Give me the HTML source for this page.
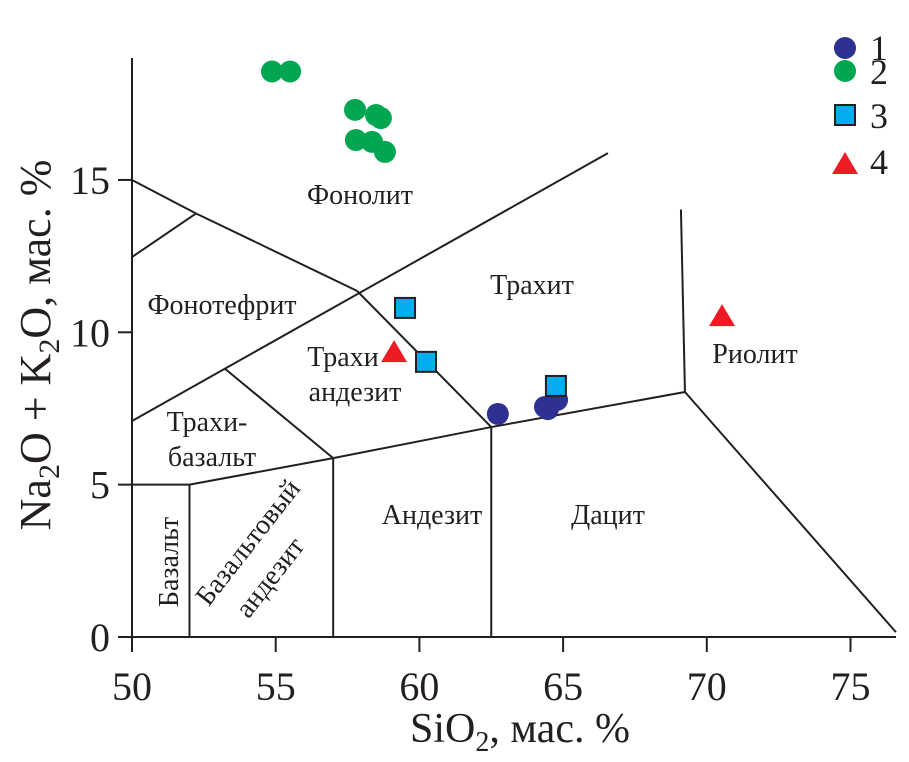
<!DOCTYPE html>
<html><head><meta charset="utf-8"><style>
html,body{margin:0;padding:0;background:#fff;}
svg{display:block;font-family:"Liberation Serif",serif;}
</style></head><body>
<svg id="c" width="909" height="762">
<g id="bound" stroke="#231f20" stroke-width="2" fill="none"></g>
<g id="axes"></g>
<g id="labels" font-size="28" fill="#231f20">
<text x="360" y="204" text-anchor="middle">Фонолит</text>
<text x="532" y="294" text-anchor="middle">Трахит</text>
<text x="222" y="314" text-anchor="middle">Фонотефрит</text>
<text x="343" y="366" text-anchor="middle">Трахи</text>
<text x="355" y="401" text-anchor="middle">андезит</text>
<text x="207" y="431" text-anchor="middle">Трахи-</text>
<text x="212" y="466" text-anchor="middle">базальт</text>
<text x="755" y="363" text-anchor="middle">Риолит</text>
<text x="432" y="524" text-anchor="middle">Андезит</text>
<text x="608" y="524" text-anchor="middle">Дацит</text>
<text transform="translate(178,562) rotate(-90)" text-anchor="middle">Базальт</text>
<text transform="translate(255,548) rotate(-52)" text-anchor="middle">Базальтовый</text>
<text transform="translate(277,583) rotate(-52)" text-anchor="middle">андезит</text>
</g>
<g id="pts"></g>
<g font-size="36" fill="#231f20">
<circle cx="845" cy="48" r="11" fill="#2e3192"/>
<text x="870" y="60">1</text>
<circle cx="845" cy="71" r="11" fill="#00a651"/>
<text x="870" y="84">2</text>
<rect x="835" y="105" width="20" height="20" fill="#00aeef" stroke="#231f20" stroke-width="2"/>
<text x="870" y="128">3</text>
<polygon points="845,152 858,174 832,174" fill="#ed1c24"/>
<text x="870" y="174">4</text>
</g>
<text x="520" y="742" text-anchor="middle" font-size="42" fill="#231f20">SiO<tspan font-size="28" dy="9">2</tspan><tspan dy="-9">, мас. %</tspan></text>
<text transform="translate(50,345) rotate(-90)" text-anchor="middle" font-size="44" fill="#231f20">Na<tspan font-size="30" dy="9">2</tspan><tspan dy="-9">O + K</tspan><tspan font-size="30" dy="9">2</tspan><tspan dy="-9">O, мас. %</tspan></text>
</svg>
<script>
const xTicks=[50,55,60,65,70,75];
const yTicks=[0,5,10,15];
// boundaries: [x1,y1,x2,y2] in SiO2 / alkali units
const boundaries=[
[50,5,52,5],[52,0,52,5],[57,0,57,5.87],[62.5,0,62.5,6.89],
[52,5,57,5.87],[57,5.87,62.5,6.89],[62.5,6.89,69.24,8.04],[69.24,8.04,76.58,0.16],
[69.1,14.03,69.24,8.04],[50,7.09,66.56,15.88],[53.24,8.8,57,5.87],
[57.83,11.36,62.5,6.89],[50,15,52.23,13.9],[52.23,13.9,57.83,11.36],[50,12.47,52.23,13.9]];
const s1x=[62.73,64.37,64.47,64.79];
const s1y=[7.32,7.55,7.48,7.78];
const s2x=[54.87,55.5,57.76,58.49,58.66,57.79,58.35,58.8];
const s2y=[18.56,18.56,17.3,17.13,17.03,16.31,16.25,15.92];
const s3x=[59.5,60.23,64.75];
const s3y=[10.8,9.03,8.24];
const s4x=[59.12,70.53];
const s4y=[9.35,10.53];
const X=v=>132+(v-50)*28.74, Y=v=>637-30.47*v;
const NS="http://www.w3.org/2000/svg";
function mk(t,a,p){const e=document.createElementNS(NS,t);for(const k in a)e.setAttribute(k,a[k]);p.appendChild(e);return e;}
const B=document.getElementById('bound');
boundaries.forEach(b=>{const e=mk('line',{x1:X(b[0]),y1:Y(b[1]),x2:X(b[2]),y2:Y(b[3])},B);

});
const A=document.getElementById('axes');
let e=mk('line',{x1:118,y1:637,x2:896,y2:637,stroke:'#231f20','stroke-width':2},A);


e=mk('line',{x1:132,y1:637,x2:132,y2:58,stroke:'#231f20','stroke-width':2},A);


xTicks.forEach(v=>{let t=mk('line',{x1:X(v),y1:637,x2:X(v),y2:652,stroke:'#231f20','stroke-width':2},A);


let l=mk('text',{x:X(v),y:700,'text-anchor':'middle','font-size':40,fill:'#231f20'},A);l.textContent=v;

});
yTicks.forEach(v=>{let t=mk('line',{x1:118,y1:Y(v),x2:132,y2:Y(v),stroke:'#231f20','stroke-width':2},A);


let l=mk('text',{x:110,y:Y(v)+14,'text-anchor':'end','font-size':40,fill:'#231f20'},A);l.textContent=v;

});
const P=document.getElementById('pts');
s2x.forEach((v,i)=>{let c=mk('circle',{cx:X(v),cy:Y(s2y[i]),r:11,fill:'#00a651'},P);

});
s1x.forEach((v,i)=>{let c=mk('circle',{cx:X(v),cy:Y(s1y[i]),r:11,fill:'#2e3192'},P);

});
s3x.forEach((v,i)=>{let c=mk('rect',{x:X(v)-10,y:Y(s3y[i])-10,width:20,height:20,fill:'#00aeef',stroke:'#231f20','stroke-width':2},P);

});
s4x.forEach((v,i)=>{const x=X(v),y=Y(s4y[i]);let c=mk('polygon',{points:`${x},${y-12} ${x+13},${y+10} ${x-13},${y+10}`,fill:'#ed1c24'},P);

});
</script>
</body></html>
